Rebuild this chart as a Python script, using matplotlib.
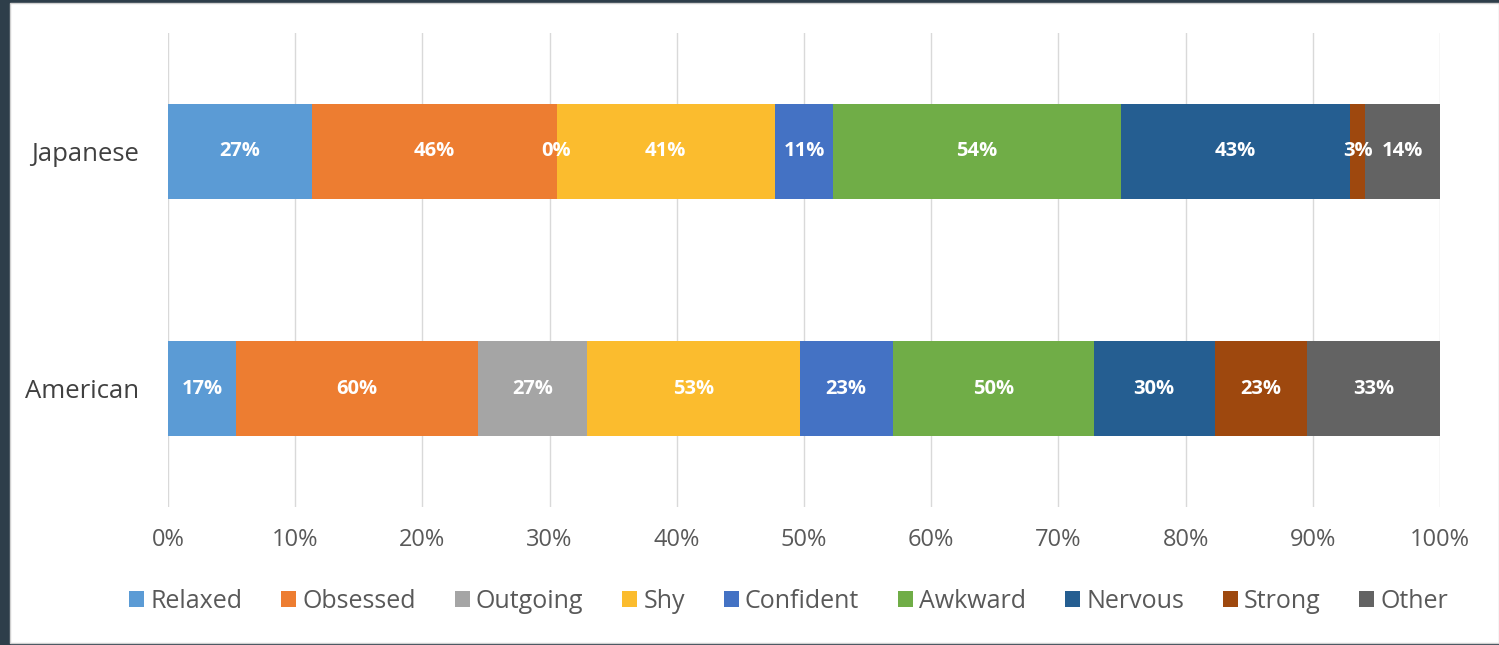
import numpy as np
import matplotlib.pyplot as plt
from matplotlib.patches import Rectangle

groups = ["Japanese", "American"]
categories = ["Relaxed", "Obsessed", "Outgoing", "Shy", "Confident",
              "Awkward", "Nervous", "Strong", "Other"]
japanese = [27, 46, 0, 41, 11, 54, 43, 3, 14]
american = [17, 60, 27, 53, 23, 50, 30, 23, 33]
colors = ["#5B9BD5", "#ED7D31", "#A5A5A5", "#FBBC2E", "#4472C4",
          "#70AD47", "#255E91", "#9E480E", "#636363"]
xticks = np.arange(0, 101, 10)

plt.rcParams['font.family'] = ['Open Sans', 'DejaVu Sans']

fig = plt.figure(figsize=(14.99, 6.45), dpi=100)
fig.patch.set_facecolor("#2E3E4A")
# white card behind the chart
card = Rectangle((10 / 1499, 2 / 645), 1489 / 1499, 640 / 645,
                 transform=fig.transFigure, facecolor="white",
                 edgecolor="#D0D0D0", lw=1, zorder=-10)
fig.add_artist(card)

ax = fig.add_axes([168 / 1499, 1 - 507 / 645, 1272 / 1499, 474 / 645])
ax.set_facecolor("none")

data = np.array([japanese, american], dtype=float)
shares = data / data.sum(axis=1, keepdims=True) * 100
left = np.zeros(len(groups))
for i, cat in enumerate(categories):
    ax.barh(range(len(groups)), shares[:, i], left=left, height=0.4,
            color=colors[i], label=cat, zorder=2)
    for j in range(len(groups)):
        ax.text(left[j] + shares[j, i] / 2, j, f"{int(data[j, i])}%",
                ha="center", va="center", color="white", fontsize=14.5,
                fontweight="bold", zorder=3)
    left += shares[:, i]

ax.set_xlim(0, 100)
ax.set_ylim(1.5, -0.5)
ax.set_xticks(xticks)
ax.set_xticklabels([f"{v}%" for v in xticks], color="#595959", fontsize=17)
ax.set_yticks(range(len(groups)))
ax.set_yticklabels(groups, color="#404040", fontsize=18.5)
ax.tick_params(axis="x", length=0, pad=15)
ax.tick_params(axis="y", length=0, pad=21)
ax.xaxis.grid(True, color="#D9D9D9", lw=1, zorder=0)
for s in ax.spines.values():
    s.set_visible(False)

ax.legend(loc="upper center", bbox_to_anchor=(0.488, -0.125), ncol=9,
          frameon=False, fontsize=18, handlelength=0.6, handleheight=0.6,
          handletextpad=0.25, columnspacing=1.55, labelcolor="#595959")

fig.savefig("out.png", dpi=100, facecolor=fig.get_facecolor())
